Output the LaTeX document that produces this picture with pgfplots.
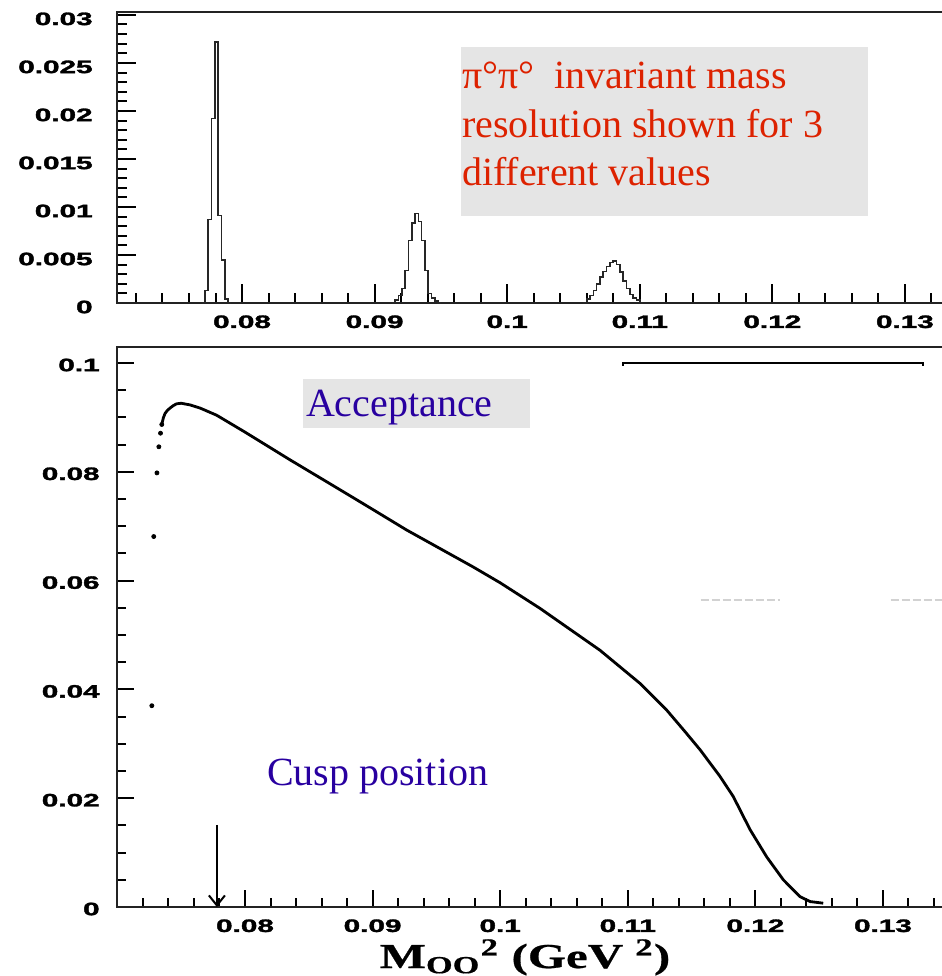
\documentclass[border=0pt]{standalone}
\usepackage{pgfplots}
\pgfplotsset{compat=1.18}
\usepackage{fontspec}
\setmainfont{Liberation Serif}
\setsansfont{Liberation Sans}
\newfontfamily\tickfont{Liberation Sans}[BoldFeatures={FakeBold=1.6}]
\newfontfamily\labfont{Liberation Serif}[BoldFeatures={FakeBold=0.6}]
\usetikzlibrary{arrows.meta}
\definecolor{redtxt}{RGB}{221,34,0}
\definecolor{bluetxt}{RGB}{40,0,160}
\definecolor{boxgray}{RGB}{229,229,229}
\definecolor{axgray}{RGB}{35,35,35}
\newcommand{\tl}[1]{\scalebox{1.65}[1]{#1}}
\pgfplotsset{
  rootstyle/.style={
    scale only axis,
    anchor=south west,
    scaled ticks=false,
    axis line style={axgray, line width=1.1pt},
    tick align=inside,
    xtick pos=bottom, ytick pos=left,
    every tick/.style={black, line width=1pt},
    ticklabel style={font=\fontsize{9}{9}\tickfont\bfseries, inner sep=0pt},
    xticklabel style={anchor=north, yshift=-6pt},
    xtick={0.08,0.09,0.1,0.11,0.12,0.13},
    xticklabels={\tl{0.08},\tl{0.09},\tl{0.1},\tl{0.11},\tl{0.12},\tl{0.13}},
    minor xtick={0.072,0.074,0.076,0.078,0.082,0.084,0.086,0.088,0.092,0.094,0.096,0.098,0.102,0.104,0.106,0.108,0.112,0.114,0.116,0.118,0.122,0.124,0.126,0.128,0.132,0.134},
  }
}
\begin{document}
\begin{tikzpicture}
\useasboundingbox (0pt,0pt) rectangle (471pt,-488pt);

% ---------------- top panel ----------------
\begin{axis}[rootstyle,
  at={(58.5pt,-151.5pt)},
  width=414.5pt, height=145.5pt,
  xmin=0.07057, xmax=0.1331, ymin=0, ymax=0.0303,
  major tick length=9.5pt, minor tick length=5pt,
  ytick={0,0.005,0.01,0.015,0.02,0.025,0.03},
  yticklabels={\tl{0},\tl{0.005},\tl{0.01},\tl{0.015},\tl{0.02},\tl{0.025},\tl{0.03}},
  minor ytick={0.001,0.002,0.003,0.004,0.006,0.007,0.008,0.009,0.011,0.012,0.013,0.014,0.016,0.017,0.018,0.019,0.021,0.022,0.023,0.024,0.026,0.027,0.028,0.029},
  yticklabel style={anchor=east, xshift=-12pt, yshift=-2pt},
]
\addplot[const plot mark left, black!85, line width=0.8pt] coordinates {
 (0.07700,0) (0.07720,0.0013) (0.07745,0.0087) (0.07770,0.0192) (0.07795,0.0272)
 (0.07820,0.0091) (0.07845,0.0045) (0.07870,0.0004) (0.07895,0) (0.07920,0)};
\addplot[const plot mark left, black!85, line width=0.8pt] coordinates {
 (0.09130,0) (0.09155,0.0003) (0.09180,0.0008) (0.09205,0.0015) (0.09230,0.0034)
 (0.09255,0.0065) (0.09280,0.0083) (0.09305,0.0093) (0.09330,0.0085) (0.09355,0.0065)
 (0.09380,0.0034) (0.09405,0.0010) (0.09430,0.0005) (0.09455,0.0002) (0.09480,0) (0.09500,0)};
\addplot[const plot mark left, black!85, line width=0.8pt] coordinates {
 (0.10575,0) (0.10600,0.0004) (0.10625,0.0008) (0.10650,0.0013) (0.10675,0.0020)
 (0.10700,0.0027) (0.10725,0.0033) (0.10750,0.0038) (0.10775,0.0042) (0.10800,0.0044)
 (0.10825,0.0040) (0.10850,0.0032) (0.10875,0.0023) (0.10900,0.0015) (0.10925,0.0009)
 (0.10950,0.0005) (0.10975,0.0003) (0.11000,0) (0.11025,0)};
\end{axis}

% ---------------- bottom panel ----------------
\begin{axis}[rootstyle,
  at={(58.5pt,-453.5pt)},
  width=414.5pt, height=280pt,
  xmin=0.06997, xmax=0.13494, ymin=0, ymax=0.10294,
  major tick length=8.5pt, minor tick length=4.5pt,
  ytick={0,0.02,0.04,0.06,0.08,0.1},
  yticklabels={\tl{0},\tl{0.02},\tl{0.04},\tl{0.06},\tl{0.08},\tl{0.1}},
  minor ytick={0.005,0.01,0.015,0.025,0.03,0.035,0.045,0.05,0.055,0.065,0.07,0.075,0.085,0.09,0.095},
  yticklabel style={anchor=east, xshift=-8.5pt, yshift=-1pt},
]
\addplot[only marks, mark=*, mark size=1pt, black] coordinates {
 (0.07270,0.0370) (0.07285,0.0681) (0.07310,0.0798) (0.07325,0.0846) (0.07338,0.0871) (0.07348,0.0887)};
\addplot[black, line width=1.4pt, line join=round] coordinates {
 (0.07348,0.0887) (0.07360,0.0899) (0.07373,0.0907) (0.07392,0.0913) (0.07412,0.0917)
 (0.07440,0.0922) (0.07465,0.0925) (0.07500,0.0926) (0.07569,0.0923) (0.07650,0.0917)
 (0.07778,0.0904) (0.08000,0.0873) (0.08353,0.0822) (0.08745,0.0767) (0.09000,0.0731)
 (0.09267,0.0693) (0.09789,0.0625) (0.10000,0.0596) (0.10312,0.0549) (0.10782,0.0472)
 (0.11096,0.0411) (0.11305,0.0362) (0.11450,0.0322) (0.11567,0.0289) (0.11723,0.0240)
 (0.11827,0.0203) (0.11959,0.0142) (0.12089,0.0092) (0.12219,0.0050) (0.12350,0.0019)
 (0.12429,0.0010) (0.12532,0.0007)};
% cusp arrow
\addplot[black, line width=1pt, -{Straight Barb[length=5pt,width=8pt]}] coordinates {(0.0778,0.0151) (0.0778,0.0)};
% stat-box remnant
\addplot[black, line width=1pt] coordinates {(0.10962,0.0995) (0.10962,0.1) (0.13313,0.1) (0.13313,0.0995)};
\addplot[gray!35, line width=0.9pt, dash pattern=on 4pt off 1.5pt] coordinates {(0.1157,0.0564) (0.1219,0.0564)};
\addplot[gray!35, line width=0.9pt, dash pattern=on 4pt off 1.5pt] coordinates {(0.1306,0.0564) (0.1349,0.0564)};
\end{axis}

% ---------------- overlay texts ----------------
\fill[boxgray] (230.5pt,-23.5pt) rectangle (434pt,-108pt);
\begin{scope}[every node/.style={anchor=base west, inner sep=0pt, text=redtxt, font=\fontsize{20}{24}\selectfont}]
\node at (230.8pt,-44pt) {π°π°\ \ invariant mass};
\node at (230.8pt,-68.5pt) {resolution shown for 3};
\node at (230.8pt,-92.5pt) {different values};
\end{scope}
\fill[boxgray] (151.5pt,-189.5pt) rectangle (265pt,-214pt);
\node[anchor=base west, inner sep=0pt, text=bluetxt, font=\fontsize{20}{24}\selectfont] at (152.8pt,-208.3pt) {Acceptance};
\node[anchor=base west, inner sep=0pt, text=bluetxt, font=\fontsize{20}{24}\selectfont] at (133.3pt,-392.5pt) {Cusp position};
\node[anchor=base, inner sep=0pt] at (262.5pt,-484pt) {\scalebox{1.4}[1]{\fontsize{17.5}{20}\selectfont\labfont\bfseries M\textsubscript{OO}\textsuperscript{2} (GeV \textsuperscript{2})}};
\end{tikzpicture}
\end{document}
